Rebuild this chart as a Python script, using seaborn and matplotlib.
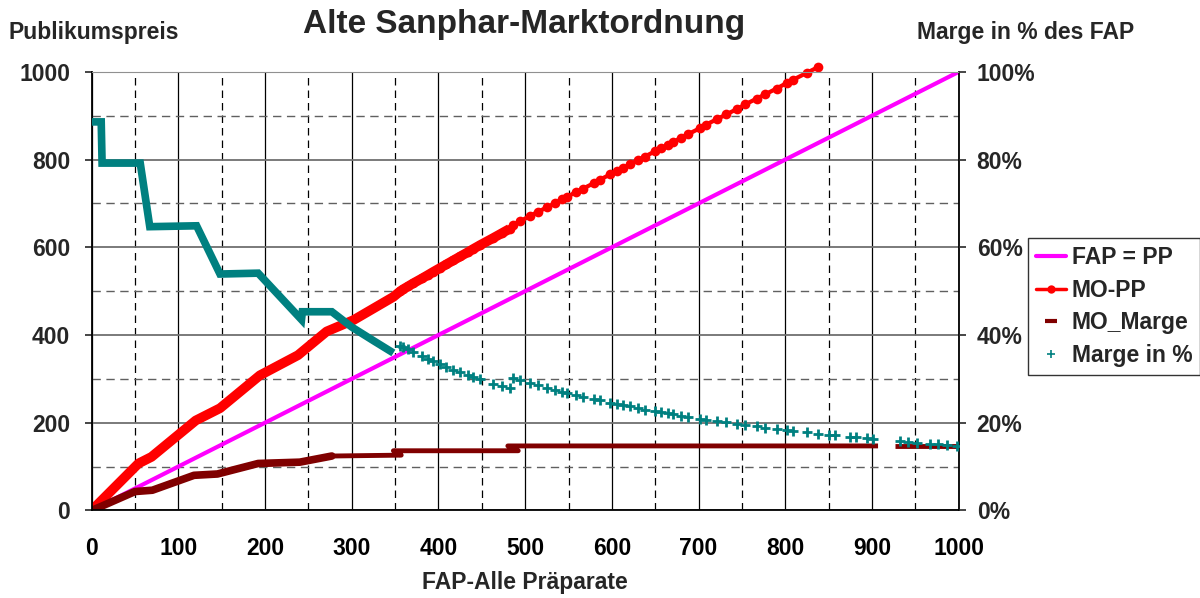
import numpy as np
import pandas as pd
import matplotlib
matplotlib.use("Agg")
import matplotlib.pyplot as plt
from matplotlib.lines import Line2D
from matplotlib.ticker import MultipleLocator, FixedLocator
import seaborn as sns

# FAP = PP (Diagonale)
diag_fap = [0, 1000]
diag_pp = [0, 1000]

# MO-PP im dichten Bereich (bis FAP ~356)
mo_pp_fap = [0, 54, 69, 120, 148, 194, 238, 271, 302, 348, 356]
mo_pp = [0, 107, 122, 205, 233, 308, 354, 408, 434, 487, 500]

# einzelne Praeparate ab FAP ~356
prep_fap = [356, 359, 365, 371, 381, 388, 394, 402, 409, 417, 425, 434, 440, 448, 463, 473, 482,
            486, 494, 506, 515, 525, 534, 542, 548, 559, 567, 579, 586, 598, 606, 613, 621, 630,
            638, 650, 657, 665, 671, 680, 688, 702, 709, 721, 732, 744, 754, 767, 777, 790, 802,
            809, 825, 838, 850, 857, 875, 882, 894, 901, 932, 942, 952, 967, 976, 986, 998]
prep_mo_pp = [500, 504, 511, 518, 529, 537, 544, 553, 561, 570, 579, 589, 596, 605, 621, 632, 642,
              651, 659, 672, 681, 691, 700, 709, 715, 726, 734, 746, 754, 766, 774, 781, 789, 798,
              807, 819, 826, 834, 840, 850, 858, 872, 880, 892, 903, 915, 926, 939, 949, 962, 975,
              982, 998, 1011]
prep_marge_pct = [37.6, 37.3, 36.7, 36.1, 35.2, 34.5, 34.0, 33.3, 32.8, 32.1, 31.5, 30.9, 30.5, 29.9,
                  28.9, 28.3, 27.8,
                  30.2, 29.8, 29.1, 28.5, 28.0, 27.5, 27.1, 26.8, 26.3, 25.9, 25.4, 25.1, 24.6, 24.3,
                  24.0, 23.7, 23.3, 23.0, 22.6, 22.4, 22.1, 21.9, 21.6, 21.4, 20.9, 20.7, 20.4, 20.1,
                  19.8, 19.5, 19.2, 18.9, 18.6, 18.3, 18.2, 17.8, 17.5,
                  17.3, 17.2, 16.8, 16.7, 16.4, 16.3, 15.8, 15.6, 15.4, 15.2, 15.1, 14.9, 14.7]

# MO_Marge (Luecke zwischen ~907 und ~926)
marge_fap = [0, 12, 50, 70, 118, 145, 192, 240, 277, 357, 348, 492, 480, 907, np.nan, 926, 1000]
mo_marge = [0, 10, 43, 46, 80, 83, 107, 110, 124, 126, 136, 136, 147, 147, np.nan, 147, 147]

# Marge in % im dichten Bereich (bis FAP ~348)
pct_fap = [0, 11, 12, 56, 67, 121, 148, 192, 242, 243, 277, 300, 325, 348]
marge_pct = [88.6, 88.6, 79.2, 79.2, 64.7, 64.9, 53.9, 54.1, 43.5, 45.3, 45.3, 41.8, 38.7, 35.9]

MAGENTA = "#FF00FF"
RED = "#FF0000"
MAROON = "#800000"
TEAL = "#008080"
FS = 16.5

sns.set_style("white")
plt.rcParams["font.family"] = ["Liberation Sans", "DejaVu Sans"]
plt.rcParams["font.weight"] = "bold"

fig = plt.figure(figsize=(12, 5.98), dpi=100)
ax = fig.add_axes([0.0764, 0.1465, 0.7225, 0.7333])
ax2 = ax.twinx()

# Primaerachse: Preise
sns.lineplot(x=diag_fap, y=diag_pp, ax=ax, color=MAGENTA, lw=3, estimator=None, legend=False)

red = pd.DataFrame({"fap": prep_fap[:len(prep_mo_pp)], "pp": prep_mo_pp})
dense_red = pd.concat([pd.DataFrame({"fap": mo_pp_fap, "pp": mo_pp}), red[red["fap"] < 485]])
sns.lineplot(data=dense_red, x="fap", y="pp", ax=ax, color=RED, lw=7, estimator=None,
             sort=False, legend=False, solid_capstyle="butt")
sns.lineplot(data=red, x="fap", y="pp", ax=ax, color=RED, lw=3.0,
             marker="o", markersize=7, markeredgewidth=0, estimator=None, sort=False,
             legend=False, clip_on=False)

marge_df = pd.DataFrame({"fap": marge_fap, "marge": mo_marge})
marge_df["seg"] = marge_df["fap"].isna().cumsum()
marge_df = marge_df.dropna()
sns.lineplot(data=marge_df[marge_df["fap"] <= 277], x="fap", y="marge", units="seg",
             estimator=None, sort=False, color=MAROON, lw=5.5, ax=ax, legend=False)
sns.lineplot(data=marge_df[marge_df["fap"] >= 277], x="fap", y="marge", units="seg",
             estimator=None, sort=False, color=MAROON, lw=3.5, ax=ax, legend=False,
             solid_capstyle="butt")

# Sekundaerachse: Marge in %
sns.lineplot(x=pct_fap, y=marge_pct, ax=ax2, color=TEAL, lw=5.5, estimator=None, sort=False,
             legend=False, solid_capstyle="butt", solid_joinstyle="miter")
sns.scatterplot(x=prep_fap, y=prep_marge_pct, ax=ax2, marker="+", s=60, color=TEAL,
                linewidth=2.0, legend=False)

# Achsen
ax.set_xlim(0, 1000)
ax.set_ylim(0, 1000)
ax2.set_ylim(0, 100)
ax.xaxis.set_major_locator(MultipleLocator(100))
ax.xaxis.set_minor_locator(MultipleLocator(50))
ax.yaxis.set_major_locator(MultipleLocator(200))
ax.yaxis.set_minor_locator(MultipleLocator(100))
ax2.yaxis.set_major_locator(FixedLocator([0, 20, 40, 60, 80, 100]))
ax2.set_yticklabels([f"{v}%" for v in [0, 20, 40, 60, 80, 100]])
ax.set_xlabel("")
ax.set_ylabel("")
ax2.set_ylabel("")

ax.grid(which="major", axis="x", color="black", lw=0.9, ls="-")
ax.grid(which="minor", axis="x", color="black", lw=0.9, ls=(0, (6, 4)))
ax.grid(which="major", axis="y", color="#707070", lw=1.3, ls="-")
ax.grid(which="minor", axis="y", color="#606060", lw=1.0, ls=(0, (6, 4)))
ax.set_axisbelow(True)

ax.tick_params(axis="x", which="major", direction="out", length=5, width=1.2,
               pad=14, labelsize=FS, colors="black")
ax.tick_params(axis="x", which="minor", direction="in", length=5, width=1.0)
ax.tick_params(axis="y", which="major", direction="out", length=5, width=1.2,
               pad=10.5, labelsize=FS)
ax.tick_params(axis="y", which="minor", length=0)
ax2.tick_params(axis="y", which="major", direction="out", length=5, width=1.2,
                pad=8, labelsize=FS)

for side in ["left", "bottom", "right"]:
    ax.spines[side].set_color("black")
    ax.spines[side].set_linewidth(1.3)
ax.spines["top"].set_color("#909090")
for side in ax2.spines:
    ax2.spines[side].set_visible(False)

# Texte
fig.text(8 / 1200, 1 - 32 / 598, "Publikumspreis", ha="left", va="center",
         fontsize=FS, weight="bold")
fig.text(524 / 1200, 1 - 25 / 598, "Alte Sanphar-Marktordnung", ha="center", va="center",
         fontsize=24, weight="bold")
fig.text(1026 / 1200, 1 - 32 / 598, "Marge in % des FAP", ha="center", va="center",
         fontsize=FS, weight="bold")
fig.text(525 / 1200, 1 - 583 / 598, "FAP-Alle Präparate", ha="center", va="center",
         fontsize=FS, weight="bold")

# Legende
handles = [
    Line2D([], [], color=MAGENTA, lw=3),
    Line2D([], [], color=RED, lw=2.5, marker="o", markersize=6, markeredgewidth=0),
    Line2D([], [], color=MAROON, lw=0, marker="_", markersize=8, markeredgewidth=3),
    Line2D([], [], color=TEAL, lw=0, marker="+", markersize=6, markeredgewidth=1.2),
]
labels = ["FAP = PP", "MO-PP", "MO_Marge", "Marge in %"]
leg = fig.legend(handles, labels, loc="upper left",
                 bbox_to_anchor=(1028 / 1200, 1 - 238 / 598), bbox_transform=fig.transFigure,
                 frameon=True, fancybox=False, edgecolor="black",
                 prop={"size": FS, "weight": "bold"}, handlelength=1.3, handletextpad=0.25,
                 borderpad=0.35, labelspacing=0.42, borderaxespad=0)
leg.get_frame().set_linewidth(1.0)

fig.savefig("out.png", dpi=100)
